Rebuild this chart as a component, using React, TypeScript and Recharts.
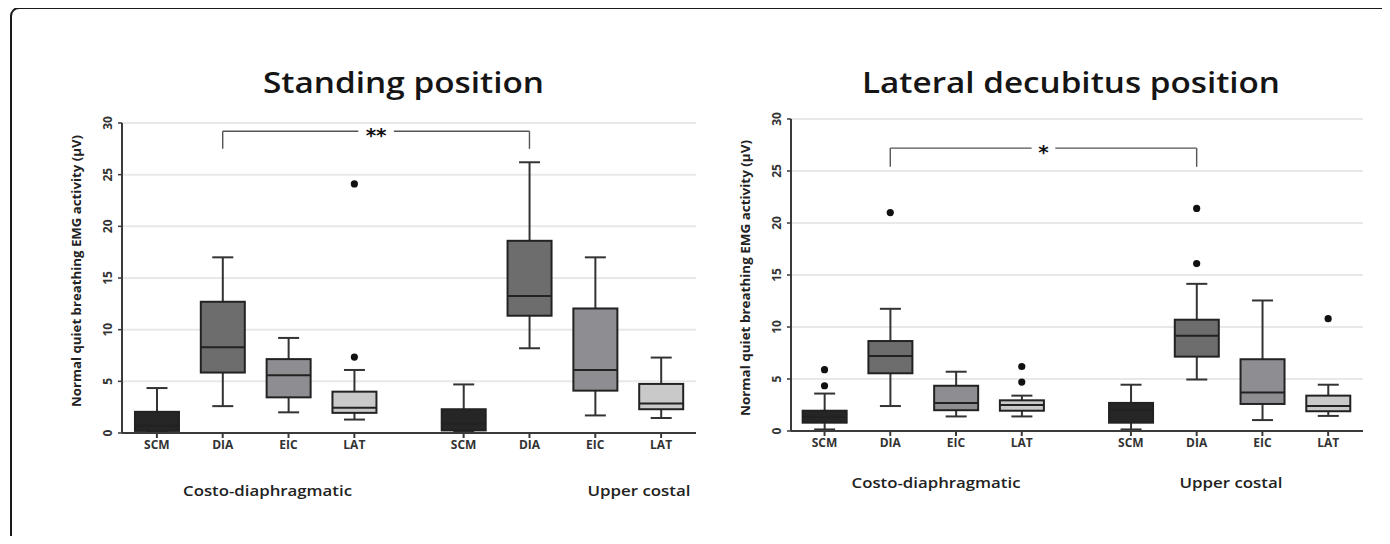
import React from "react";
import {
  ComposedChart,
  Bar,
  Scatter,
  XAxis,
  YAxis,
  CartesianGrid,
  ReferenceLine,
  ReferenceDot,
} from "recharts";

// categories
const muscles = ["SCM", "DIA", "EIC", "LAT"];
const groups = ["Costo-diaphragmatic", "Upper costal"];
const tickLabels = [...muscles, ...muscles];
const yTicks = [0, 5, 10, 15, 20, 25, 30];

// standing position: costo-diaphragmatic SCM..LAT, then upper costal SCM..LAT
const standingMin = [0.1, 2.6, 2.0, 1.3, 0.1, 8.2, 1.7, 1.45];
const standingQ1 = [0.2, 5.85, 3.45, 1.95, 0.25, 11.35, 4.1, 2.3];
const standingMedian = [0.7, 8.3, 5.6, 2.45, 0.9, 13.25, 6.1, 2.85];
const standingQ3 = [2.05, 12.7, 7.15, 4.0, 2.3, 18.6, 12.05, 4.75];
const standingMax = [4.35, 17.0, 9.2, 6.1, 4.7, 26.2, 17.0, 7.3];
const standingOutliers = [[], [], [], [7.35, 24.1], [], [], [], []];

// lateral decubitus position
const lateralMin = [0.15, 2.4, 1.4, 1.4, 0.15, 4.95, 1.05, 1.45];
const lateralQ1 = [0.8, 5.55, 2.0, 1.95, 0.8, 7.15, 2.6, 1.9];
const lateralMedian = [1.35, 7.2, 2.7, 2.5, 2.05, 9.15, 3.7, 2.4];
const lateralQ3 = [1.95, 8.65, 4.35, 2.95, 2.7, 10.7, 6.9, 3.4];
const lateralMax = [3.6, 11.75, 5.7, 3.4, 4.45, 14.15, 12.55, 4.45];
const lateralOutliers = [[4.35, 5.9], [21.0], [], [4.7, 6.2], [], [16.1, 21.4], [], [10.8]];

// significance brackets (DIA vs DIA)
const bracketLabels = ["**", "*"];
const bracketLevels = [29.2, 27.2];
const bracketDrops = [27.5, 25.4];

const FONT = "'Open Sans'";
const muscleFills = ["#262626", "#6d6d6d", "#8e8e92", "#c9c9c9"];
const GROUP_GAP = 0.66;
const xPositions = tickLabels.map((_, i) => i + 1 + (i >= 4 ? GROUP_GAP : 0));

type BoxRow = { x: number; min: number; q1: number; median: number; q3: number; max: number };

function buildRows(mins: number[], q1s: number[], meds: number[], q3s: number[], maxs: number[]): BoxRow[] {
  return xPositions.map((x, i) => ({ x, min: mins[i], q1: q1s[i], median: meds[i], q3: q3s[i], max: maxs[i] }));
}

function buildOutliers(list: number[][]) {
  const pts: { x: number; y: number }[] = [];
  list.forEach((vals, i) => vals.forEach((v) => pts.push({ x: xPositions[i], y: v })));
  return pts;
}

const BoxShape = (props: any) => {
  const { x, y, width, height, payload, index } = props;
  if (!payload) return null;
  const top = Math.min(y, y + height);
  const bottom = Math.max(y, y + height);
  const k = (bottom - top) / (payload.max - payload.min);
  const Y = (v: number) => bottom - (v - payload.min) * k;
  const cx = x + width / 2;
  const cap = 10.5;
  const line = "#333";
  return (
    <g>
      <line x1={cx} x2={cx} y1={Y(payload.max)} y2={Y(payload.min)} stroke={line} strokeWidth={2} />
      <line x1={cx - cap} x2={cx + cap} y1={Y(payload.max)} y2={Y(payload.max)} stroke={line} strokeWidth={2} />
      <line x1={cx - cap} x2={cx + cap} y1={Y(payload.min)} y2={Y(payload.min)} stroke={line} strokeWidth={2} />
      <rect
        x={x}
        y={Y(payload.q3)}
        width={width}
        height={Y(payload.q1) - Y(payload.q3)}
        fill={muscleFills[index % 4]}
        stroke="#222"
        strokeWidth={2}
      />
      <line x1={x} x2={x + width} y1={Y(payload.median)} y2={Y(payload.median)} stroke="#222" strokeWidth={2} />
    </g>
  );
};

const OutlierDot = (props: any) => <circle cx={props.cx} cy={props.cy} r={3.6} fill="#111" />;

const YTick = (props: any) => {
  const { x, y, payload } = props;
  return (
    <text
      transform={`translate(${x - 4},${y}) rotate(-90)`}
      textAnchor="middle"
      fontFamily={FONT}
      fontWeight={700}
      fontSize={12}
      fill="#333"
    >
      {payload.value}
    </text>
  );
};

interface PanelProps {
  rows: BoxRow[];
  outliers: { x: number; y: number }[];
  xMin: number;
  width: number;
  margin: { top: number; right: number; bottom: number; left: number };
  star: string;
  level: number;
  drop: number;
  gap: number;
}

function Panel({ rows, outliers, xMin, width, margin, star, level, drop, gap }: PanelProps) {
  const from = xPositions[1];
  const to = xPositions[5];
  const mid = (from + to) / 2;
  const bracket = { stroke: "#555", strokeWidth: 1.4, ifOverflow: "visible" as const };
  return (
    <ComposedChart width={width} height={544} data={rows} margin={margin}>
      <CartesianGrid vertical={false} stroke="#e8e8e8" strokeWidth={2} />
      <XAxis
        dataKey="x"
        type="number"
        domain={[xMin, 9.19]}
        ticks={xPositions}
        interval={0}
        allowDataOverflow
        tickFormatter={(_v: number, i: number) => tickLabels[i]}
        height={30}
        tickSize={5}
        axisLine={{ stroke: "#3a3a3a", strokeWidth: 2 }}
        tickLine={{ stroke: "#3a3a3a", strokeWidth: 2 }}
        tick={{ fontFamily: FONT, fontWeight: 700, fontSize: 12, fill: "#333" }}
      />
      <YAxis
        type="number"
        domain={[0, 30]}
        ticks={yTicks}
        width={40}
        tickSize={4}
        axisLine={{ stroke: "#3a3a3a", strokeWidth: 2 }}
        tickLine={{ stroke: "#3a3a3a", strokeWidth: 1.5 }}
        tick={<YTick />}
      />
      <Bar
        dataKey={(r: BoxRow) => [r.min, r.max]}
        barSize={44}
        shape={(p: any) => <BoxShape {...p} />}
        isAnimationActive={false}
      />
      <Scatter data={outliers} dataKey="y" shape={<OutlierDot />} isAnimationActive={false} />
      <ReferenceLine segment={[{ x: from, y: drop }, { x: from, y: level }]} {...bracket} />
      <ReferenceLine segment={[{ x: from, y: level }, { x: mid - gap, y: level }]} {...bracket} />
      <ReferenceLine segment={[{ x: mid + gap, y: level }, { x: to, y: level }]} {...bracket} />
      <ReferenceLine segment={[{ x: to, y: level }, { x: to, y: drop }]} {...bracket} />
      <ReferenceDot
        x={mid}
        y={level}
        r={0}
        fill="none"
        stroke="none"
        ifOverflow="visible"
        label={(p: any) => (
          <text
            x={p.viewBox.x}
            y={p.viewBox.y + 11}
            textAnchor="middle"
            fontFamily="DejaVu Sans"
            fontWeight={700}
            fontSize={20}
            fill="#111"
          >
            {star}
          </text>
        )}
      />
    </ComposedChart>
  );
}

export default function App() {
  const standingRows = buildRows(standingMin, standingQ1, standingMedian, standingQ3, standingMax);
  const lateralRows = buildRows(lateralMin, lateralQ1, lateralMedian, lateralQ3, lateralMax);
  const yLabel = "Normal quiet breathing EMG activity (\u03bcV)";
  const titleStyle = { fontFamily: FONT, fontSize: 28, fontWeight: 600, fill: "#151515", lengthAdjust: "spacingAndGlyphs" };
  const groupStyle = { fontFamily: FONT, fontWeight: 600, fontSize: 15, fill: "#222", lengthAdjust: "spacingAndGlyphs" };
  const yLabelStyle = { fontFamily: FONT, fontWeight: 700, fontSize: 12, fill: "#222", lengthAdjust: "spacingAndGlyphs" };

  return (
    <div
      style={{
        position: "relative",
        width: 1390,
        height: 544,
        margin: -8,
        background: "#fff",
        overflow: "hidden",
      }}
    >
      <div
        style={{
          position: "absolute",
          left: 10,
          top: 7,
          width: 1500,
          height: 700,
          border: "2px solid #1a1a1a",
          borderRadius: 9,
        }}
      />
      <div style={{ position: "absolute", left: 0, top: 0 }}>
        <Panel
          rows={standingRows}
          outliers={buildOutliers(standingOutliers)}
          xMin={0.47}
          width={720}
          margin={{ top: 123, right: 24, bottom: 81, left: 82 }}
          star={bracketLabels[0]}
          level={bracketLevels[0]}
          drop={bracketDrops[0]}
          gap={0.27}
        />
      </div>
      <div style={{ position: "absolute", left: 730, top: 0 }}>
        <Panel
          rows={lateralRows}
          outliers={buildOutliers(lateralOutliers)}
          xMin={0.49}
          width={660}
          margin={{ top: 119, right: 27, bottom: 83, left: 21 }}
          star={bracketLabels[1]}
          level={bracketLevels[1]}
          drop={bracketDrops[1]}
          gap={0.18}
        />
      </div>
      <svg
        width={1390}
        height={544}
        style={{ position: "absolute", left: 0, top: 0, pointerEvents: "none" }}
      >
        <text x={403.5} y={93} textAnchor="middle" textLength={281} {...titleStyle}>Standing position</text>
        <text x={1071} y={93} textAnchor="middle" textLength={418} {...titleStyle}>Lateral decubitus position</text>
        <text x={267.5} y={496} textAnchor="middle" textLength={169} {...groupStyle}>{groups[0]}</text>
        <text x={639} y={496} textAnchor="middle" textLength={103} {...groupStyle}>{groups[1]}</text>
        <text x={936} y={488} textAnchor="middle" textLength={169} {...groupStyle}>{groups[0]}</text>
        <text x={1231} y={488} textAnchor="middle" textLength={103} {...groupStyle}>{groups[1]}</text>
        <text transform="translate(80.5,271) rotate(-90)" textAnchor="middle" textLength={272} {...yLabelStyle}>{yLabel}</text>
        <text transform="translate(749.5,278) rotate(-90)" textAnchor="middle" textLength={276} {...yLabelStyle}>{yLabel}</text>
      </svg>
    </div>
  );
}
